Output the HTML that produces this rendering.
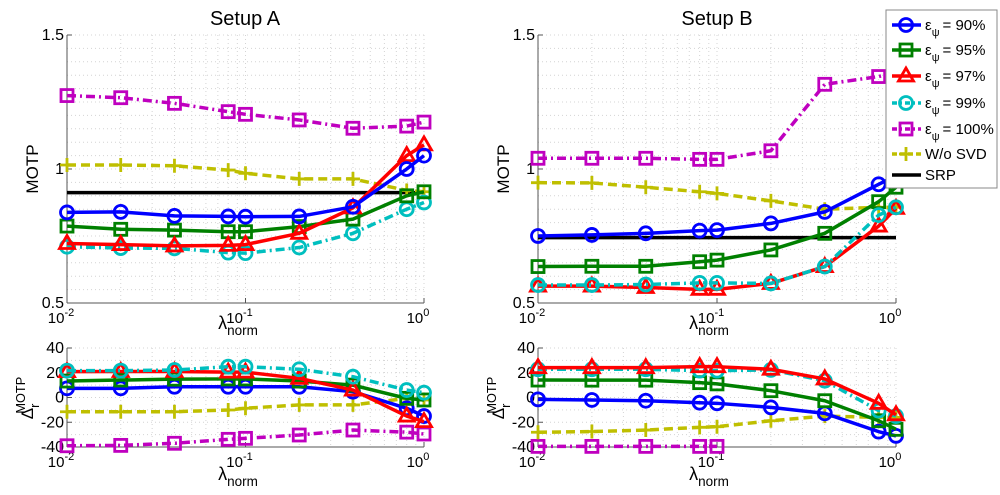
<!DOCTYPE html>
<html><head><meta charset="utf-8">
<style>
html,body{margin:0;padding:0;background:#fff;}
svg{display:block;font-family:"Liberation Sans",sans-serif;}
</style></head>
<body>
<svg id="chart" width="1000" height="495" viewBox="0 0 1000 495" xmlns="http://www.w3.org/2000/svg"></svg>
<script>
// ---------- data ----------
const lambdas = [0.01, 0.02, 0.04, 0.08, 0.1, 0.2, 0.4, 0.8, 1];
const seriesNames = ["eps90", "eps95", "eps97", "eps99", "eps100", "wosvd"];
// Setup A, MOTP
const motpA_eps90 = [0.838, 0.840, 0.825, 0.823, 0.822, 0.823, 0.859, 1.0, 1.05];
const motpA_eps95 = [0.787, 0.775, 0.772, 0.766, 0.766, 0.785, 0.813, 0.90, 0.915];
const motpA_eps97 = [0.722, 0.718, 0.713, 0.715, 0.718, 0.760, 0.855, 1.05, 1.09];
const motpA_eps99 = [0.710, 0.705, 0.704, 0.688, 0.686, 0.707, 0.760, 0.85, 0.875];
const motpA_eps100 = [1.274, 1.266, 1.245, 1.214, 1.204, 1.183, 1.152, 1.16, 1.175];
const motpA_wosvd = [1.015, 1.015, 1.012, 0.996, 0.984, 0.963, 0.963, 0.92, 0.915];
const motpA_srp = 0.912;
// Setup B, MOTP
const motpB_eps90 = [0.750, 0.754, 0.760, 0.770, 0.772, 0.797, 0.840, 0.943, 0.975];
const motpB_eps95 = [0.636, 0.637, 0.637, 0.654, 0.660, 0.698, 0.760, 0.878, 0.932];
const motpB_eps97 = [0.563, 0.563, 0.558, 0.551, 0.551, 0.573, 0.636, 0.787, 0.853];
const motpB_eps99 = [0.567, 0.567, 0.569, 0.575, 0.575, 0.573, 0.636, 0.828, 0.857];
const motpB_eps100 = [1.040, 1.040, 1.040, 1.036, 1.036, 1.068, 1.316, 1.345, 1.36];
const motpB_wosvd = [0.949, 0.948, 0.932, 0.915, 0.909, 0.881, 0.850, 0.857, 0.857];
const motpB_srp = 0.744;
// Setup A, Delta
const deltaA_eps90 = [7.4, 7.4, 8.7, 8.7, 8.7, 8.7, 4.7, -8.7, -15];
const deltaA_eps95 = [13.3, 14.1, 14.8, 15, 15, 13.3, 10, -0.7, -2];
const deltaA_eps97 = [20.9, 21, 21, 20.5, 20.5, 15.5, 6, -15, -19.5];
const deltaA_eps99 = [21.7, 21.7, 22.2, 24.9, 24.9, 22.8, 16.8, 6, 3.9];
const deltaA_eps100 = [-39, -38.7, -37, -33.8, -33, -30.3, -26.3, -28, -29.5];
const deltaA_wosvd = [-11.5, -11.5, -11.5, -10.1, -8.7, -6, -6, -0.7, -2];
// Setup B, Delta
const deltaB_eps90 = [-1.5, -2, -2.6, -4.2, -4.7, -8, -12.8, -27.6, -31];
const deltaB_eps95 = [14.1, 14, 14, 12, 11, 5.5, -2.6, -18.8, -25.7];
const deltaB_eps97 = [24.1, 24.1, 24.1, 24.9, 24.9, 22.8, 15, -4.7, -14];
const deltaB_eps99 = [22.8, 22.8, 22.8, 21.7, 21.7, 22.3, 13.6, -10.6, -15];
const deltaB_eps100 = [-39.5, -39.5, -39.5, -39.5, -39.5, null, null, null, null];
const deltaB_wosvd = [-28.1, -27.5, -26.3, -24.1, -23.6, -18.8, -15, -16.1, -16.1];
const yTicksTop = [0.5, 1, 1.5];
const yTicksBottom = [-40, -20, 0, 20, 40];
const xTickExps = [-2, -1, 0];
const legendLabels = ["= 90%", "= 95%", "= 97%", "= 99%", "= 100%", "W/o SVD", "SRP"];

// ---------- styles ----------
const styles = {
  eps90: {c:"#0000ff", dash:"", m:"circle"},
  eps95: {c:"#008000", dash:"", m:"square"},
  eps97: {c:"#ff0000", dash:"", m:"triangle"},
  eps99: {c:"#00bfbf", dash:"9,4,2,4", m:"circle"},
  eps100:{c:"#bf00bf", dash:"9,4,2,4", m:"square"},
  wosvd: {c:"#bfbf00", dash:"9,5", m:"plus"}
};
const NS = "http://www.w3.org/2000/svg";
const svg = document.getElementById("chart");
function el(tag, attrs, parent){
  const e = document.createElementNS(NS, tag);
  for (const k in attrs) e.setAttribute(k, attrs[k]);
  (parent||svg).appendChild(e);
  return e;
}

function makeAxes(name, x0, x1, yTop, yBot, vMin, vMax, minorStep, yTicks){
  const g = el("g", {});
  
  
  const xs = v => x0 + (Math.log10(v) + 2) / 2 * (x1 - x0);
  const ys = v => yBot - (v - vMin) / (vMax - vMin) * (yBot - yTop);
  const grid = el("g", {stroke:"#d4d4d4","stroke-width":1,"stroke-dasharray":"1,3"}, g);
  
  
  for (let d = -2; d < 0; d++) for (let k = 1; k <= 10; k++){
    const v = k * Math.pow(10, d);
    if (v <= 0.01) continue;
    el("line", {x1:xs(v), x2:xs(v), y1:yTop, y2:yBot}, grid);
  }
  for (let v = vMin + minorStep; v <= vMax + 1e-9; v += minorStep){
    el("line", {x1:x0, x2:x1, y1:ys(v), y2:ys(v)}, grid);
  }
  const ax = el("g", {stroke:"#555","stroke-width":1}, g);
  
  
  el("line", {x1:x0, x2:x0, y1:yTop, y2:yBot}, ax);
  el("line", {x1:x0, x2:x1, y1:yBot, y2:yBot}, ax);
  xTickExps.forEach(e => {
    const x = xs(Math.pow(10, e));
    el("line", {x1:x, x2:x, y1:yBot, y2:yBot-5, stroke:"#555"}, g);
    const t = el("text", {x:x-6, y:yBot+20, "font-size":15, "text-anchor":"middle", fill:"#000"}, g);
    
    
    t.textContent = "10";
    const s = el("tspan", {dy:-7, "font-size":11}, t);
    s.textContent = String(e);
  });
  yTicks.forEach(v => {
    const y = ys(v);
    el("line", {x1:x0, x2:x0+5, y1:y, y2:y, stroke:"#555"}, g);
    const t = el("text", {x:x0-3, y:y+5, "font-size":16, "text-anchor":"end", fill:"#000"}, g);
    
    
    t.textContent = String(v);
  });
  return {g, xs, ys};
}

function marker(g, type, x, y, color){
  const sw = 2.8;
  if (type === "circle") el("circle", {cx:x, cy:y, r:6.5, fill:"none", stroke:color, "stroke-width":sw}, g);
  else if (type === "square") el("rect", {x:x-6, y:y-6, width:12, height:12, fill:"none", stroke:color, "stroke-width":sw}, g);
  else if (type === "triangle") el("polygon", {points:`${x},${y-8} ${x-7.5},${y+5} ${x+7.5},${y+5}`, fill:"none", stroke:color, "stroke-width":sw}, g);
  else if (type === "plus") { el("path", {d:`M${x-7},${y}H${x+7}M${x},${y-7}V${y+7}`, stroke:color, "stroke-width":sw}, g); }
}

function drawSeries(ax, name, vals){
  const st = styles[name];
  const g = el("g", {}, ax.g);
  
  
  let pts = [];
  lambdas.forEach((l, i) => { if (vals[i] !== null) pts.push([ax.xs(l), ax.ys(vals[i])]); });
  el("polyline", {points:pts.map(p=>p.join(",")).join(" "), fill:"none", stroke:st.c, "stroke-width":3.5, "stroke-dasharray":st.dash, "stroke-linejoin":"round"}, g);
  pts.forEach(p => marker(g, st.m, p[0], p[1], st.c));
}

function drawSrp(ax, v){
  const l = el("line", {x1:ax.xs(0.01), x2:ax.xs(1), y1:ax.ys(v), y2:ax.ys(v), stroke:"#000","stroke-width":3.5}, ax.g);
  
  
}

function label(txt, x, y, size, name, rotate, sub, sup){
  const t = el("text", {x:x, y:y, "font-size":size, "text-anchor":"middle", fill:"#000"});
  if (rotate) t.setAttribute("transform", `rotate(-90 ${x} ${y})`);
  
  
  t.textContent = txt;
  if (sub){ const s = el("tspan", {dy:6, "font-size":size*0.75}, t); s.textContent = sub; }
  if (sup){ const s = el("tspan", {dx:-10, dy:-14, "font-size":size*0.75}, t); s.textContent = sup; }
  return t;
}

const axA = makeAxes("motp-setup-a", 67, 424, 35, 303, 0.5, 1.5, 0.05, yTicksTop);
const axB = makeAxes("motp-setup-b", 538, 896, 35, 303, 0.5, 1.5, 0.05, yTicksTop);
const axC = makeAxes("delta-setup-a", 67, 424, 348, 447, -40, 40, 10, yTicksBottom);
const axD = makeAxes("delta-setup-b", 538, 896, 348, 447, -40, 40, 10, yTicksBottom);

drawSrp(axA, motpA_srp);
drawSrp(axB, motpB_srp);
drawSeries(axA,"eps100",motpA_eps100); drawSeries(axA,"wosvd",motpA_wosvd);
drawSeries(axA,"eps99",motpA_eps99); drawSeries(axA,"eps95",motpA_eps95);
drawSeries(axA,"eps97",motpA_eps97); drawSeries(axA,"eps90",motpA_eps90);
drawSeries(axB,"eps100",motpB_eps100); drawSeries(axB,"wosvd",motpB_wosvd);
drawSeries(axB,"eps95",motpB_eps95); drawSeries(axB,"eps97",motpB_eps97);
drawSeries(axB,"eps99",motpB_eps99); drawSeries(axB,"eps90",motpB_eps90);
drawSeries(axC,"eps100",deltaA_eps100); drawSeries(axC,"wosvd",deltaA_wosvd);
drawSeries(axC,"eps90",deltaA_eps90); drawSeries(axC,"eps95",deltaA_eps95);
drawSeries(axC,"eps97",deltaA_eps97); drawSeries(axC,"eps99",deltaA_eps99);
drawSeries(axD,"eps100",deltaB_eps100); drawSeries(axD,"wosvd",deltaB_wosvd);
drawSeries(axD,"eps90",deltaB_eps90); drawSeries(axD,"eps95",deltaB_eps95);
drawSeries(axD,"eps99",deltaB_eps99); drawSeries(axD,"eps97",deltaB_eps97);

label("Setup A", 245, 25, 20, "title-setup-a");
label("Setup B", 717, 25, 20, "title-setup-b");
label("MOTP", 38, 169, 17, "y-axis-title-a", true);
label("MOTP", 509, 169, 17, "y-axis-title-b", true);
label("λ", 238, 329, 18, "x-axis-title-a-top", false, "norm");
label("λ", 709, 329, 18, "x-axis-title-b-top", false, "norm");
label("λ", 238, 480, 18, "x-axis-title-a-bottom", false, "norm");
label("λ", 709, 480, 18, "x-axis-title-b-bottom", false, "norm");
label("Δ", 33, 398, 17, "y-axis-title-delta-a", true, "r", "MOTP");
label("Δ", 504, 398, 17, "y-axis-title-delta-b", true, "r", "MOTP");

const lg = el("g", {});


el("rect", {x:886, y:10, width:111, height:178, fill:"#fff", stroke:"#888", "stroke-width":1}, lg);
const legendKeys = ["eps90","eps95","eps97","eps99","eps100","wosvd","srp"];
const legendY = [25, 50, 76, 103, 129, 154, 175];
legendKeys.forEach((k, i) => {
  const e = el("g", {}, lg);
  
  
  const y = legendY[i];
  if (k === "srp") el("line", {x1:892, x2:921, y1:y, y2:y, stroke:"#000", "stroke-width":3.5}, e);
  else {
    const st = styles[k];
    el("line", {x1:892, x2:921, y1:y, y2:y, stroke:st.c, "stroke-width":3.5, "stroke-dasharray":st.dash==="9,4,2,4"?"5,3,2,3":(st.dash?"5,3":"")}, e);
    marker(e, st.m, 906, y, st.c);
  }
  const t = el("text", {x:925, y:y+5, "font-size":15, fill:"#000"}, e);
  if (i < 5){
    const a = el("tspan", {}, t); a.textContent = "ε";
    const b = el("tspan", {dy:6, "font-size":11}, t); b.textContent = "ψ";
    const c = el("tspan", {dy:-6, dx:3}, t); c.textContent = legendLabels[i];
  } else t.textContent = legendLabels[i];
});
</script>
</body></html>
